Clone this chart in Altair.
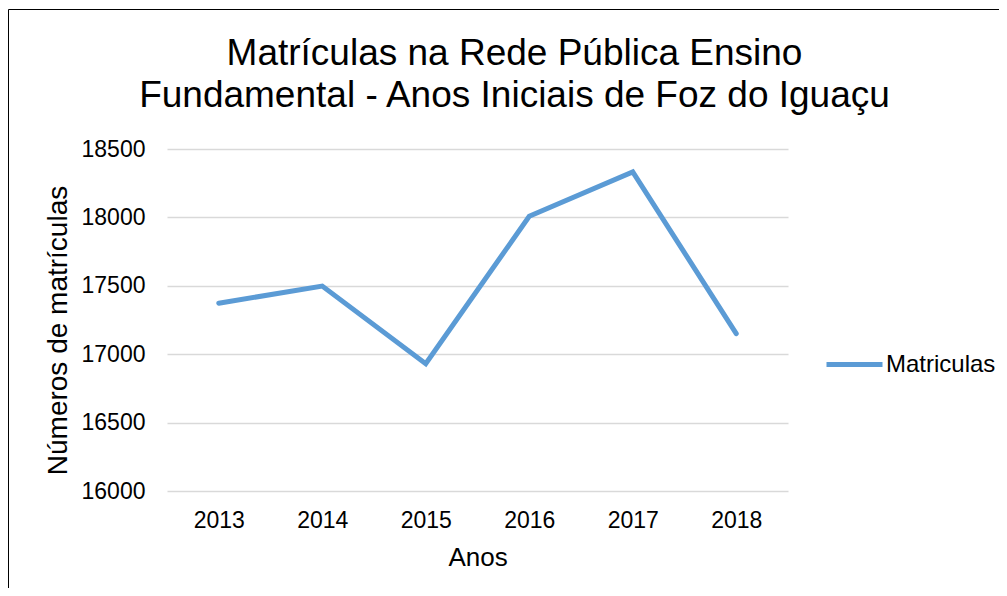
import altair as alt
import pandas as pd

years = ["2013", "2014", "2015", "2016", "2017", "2018"]
matriculas = [17373, 17498, 16930, 18008, 18332, 17151]
series_name = "Matriculas"
y_ticks = [16000, 16500, 17000, 17500, 18000, 18500]
title_lines = ["Matrículas na Rede Pública Ensino", "Fundamental - Anos Iniciais de Foz do Iguaçu"]

df = pd.DataFrame({"ano": years, "valor": matriculas, "serie": [series_name] * len(years)})

FONT = "Liberation Sans"

line = alt.Chart(df).mark_line(strokeWidth=5, strokeCap="round").encode(
    x=alt.X("ano:O", scale=alt.Scale(padding=0.5),
            axis=alt.Axis(title="Anos", labelAngle=0, ticks=False, domain=False, grid=False,
                          labelFontSize=23, labelPadding=18, labelColor="#000000", labelFont=FONT,
                          titleFontSize=26, titleFont=FONT, titleFontWeight="normal", titleColor="#000000",
                          titleBaseline="alphabetic", titleY=74)),
    y=alt.Y("valor:Q", scale=alt.Scale(domain=[16000, 18500], nice=False, zero=False),
            axis=alt.Axis(title="Números de matrículas", values=y_ticks, format="d", ticks=False, domain=False,
                          gridColor="#D9D9D9", gridWidth=1.3,
                          labelFontSize=23, labelPadding=22, labelColor="#000000", labelFont=FONT,
                          titleFontSize=28, titleFont=FONT, titleFontWeight="normal", titleColor="#000000",
                          titleAngle=270, titleBaseline="alphabetic", titleAlign="center",
                          titleX=-101, titleY=181)),
    color=alt.Color("serie:N", scale=alt.Scale(range=["#5B9BD5"]),
                    legend=alt.Legend(title=None, orient="none", legendX=657, legendY=185,
                                      symbolType="stroke", symbolSize=3136, symbolStrokeWidth=5,
                                      labelFontSize=24, labelFont=FONT, labelColor="#000000",
                                      labelOffset=1)),
)

frame_data = alt.Data(values=[{"k": 1}])
top_border = alt.Chart(frame_data).mark_rule(color="#000000", strokeWidth=1).encode(
    x=alt.value(-158.5), x2=alt.value(860), y=alt.value(-139.5))
left_border = alt.Chart(frame_data).mark_rule(color="#000000", strokeWidth=1).encode(
    x=alt.value(-158.5), y=alt.value(-139.5), y2=alt.value(470))

title_text = alt.Chart(frame_data).mark_text(
    font=FONT, fontSize=37, color="#000000", align="center", baseline="alphabetic", lineHeight=42
).encode(x=alt.value(347.5), y=alt.value(-84), text=alt.value(title_lines))

chart = alt.layer(line, top_border, left_border, title_text).properties(
    width=621, height=342,
    autosize=alt.AutoSizeParams(type="none"),
    padding={"left": 159, "top": 141, "right": 211, "bottom": 97},
    background="#FFFFFF",
).configure_view(stroke=None)

chart.save("out.html", embed_options={"renderer": "svg", "actions": False})
